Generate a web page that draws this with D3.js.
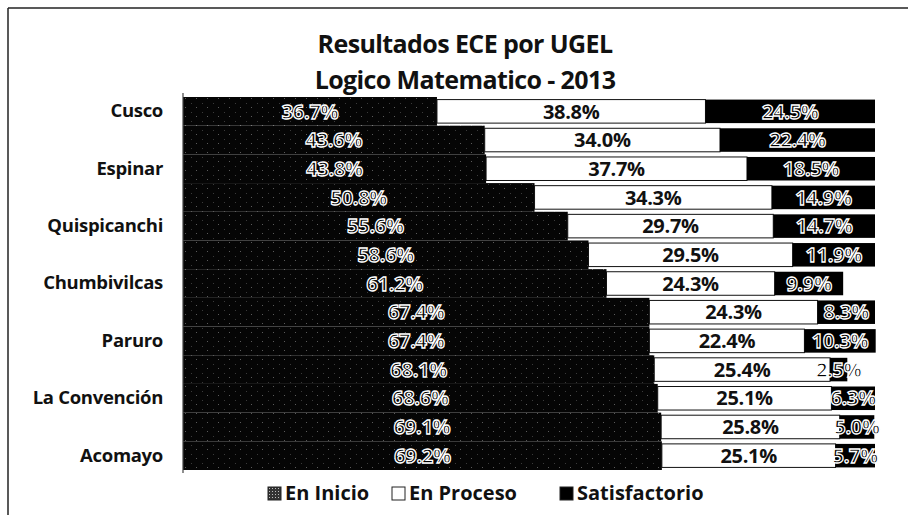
<!DOCTYPE html>
<html>
<head>
<meta charset="utf-8">
<script src="https://cdn.jsdelivr.net/npm/d3@7"></script>
<style>
	body { margin: 0; background: #fff; }
	text { font-family: "Open Sans", "Noto Sans", sans-serif; font-weight: bold; }
</style>
</head>
<body>
<div id="chart-area"></div>
<script>
// categories, top to bottom (only every other one is labelled in the original)
const ugels = ["Cusco", "Urubamba", "Espinar", "Calca", "Quispicanchi", "Anta", "Chumbivilcas",
	"Canchis", "Paruro", "Paucartambo", "La Convención", "Canas", "Acomayo"]
const enInicio = [36.7, 43.6, 43.8, 50.8, 55.6, 58.6, 61.2, 67.4, 67.4, 68.1, 68.6, 69.1, 69.2]
const enProceso = [38.8, 34.0, 37.7, 34.3, 29.7, 29.5, 24.3, 24.3, 22.4, 25.4, 25.1, 25.8, 25.1]
const satisfactorio = [24.5, 22.4, 18.5, 14.9, 14.7, 11.9, 9.9, 8.3, 10.3, 2.5, 6.3, 5.0, 5.7]
const seriesNames = ["En Inicio", "En Proceso", "Satisfactorio"]
const titleLines = ["Resultados ECE por UGEL", "Logico Matematico - 2013"]

const W = 908
const H = 515
const MARGIN = { LEFT: 183, RIGHT: 33, TOP: 97, BOTTOM: 45 }
const WIDTH = W - MARGIN.LEFT - MARGIN.RIGHT
const HEIGHT = H - MARGIN.TOP - MARGIN.BOTTOM

const svg = d3.select("#chart-area").append("svg")
	.attr("width", W)
	.attr("height", H)

// speckled black fill, like the scanned "En Inicio" bars
const defs = svg.append("defs")
const pat = defs.append("pattern")
	.attr("id", "speck")
	.attr("patternUnits", "userSpaceOnUse")
	.attr("width", 11)
	.attr("height", 9)
pat.append("rect").attr("width", 11).attr("height", 9).attr("fill", "#050505")
pat.append("rect").attr("x", 2).attr("y", 1).attr("width", 1).attr("height", 1).attr("fill", "#5a5a5a")
pat.append("rect").attr("x", 8).attr("y", 6).attr("width", 1).attr("height", 1).attr("fill", "#3a3a3a")

const legPat = defs.append("pattern")
	.attr("id", "speck-legend")
	.attr("patternUnits", "userSpaceOnUse")
	.attr("width", 3)
	.attr("height", 3)
legPat.append("rect").attr("width", 3).attr("height", 3).attr("fill", "#333")
legPat.append("rect").attr("x", 1).attr("y", 1).attr("width", 1).attr("height", 1).attr("fill", "#bbb")

// frame of the scanned figure
svg.append("line")
	.attr("x1", 8).attr("x2", W).attr("y1", 8).attr("y2", 8)
	.attr("stroke", "#222").attr("stroke-width", 1.5)
svg.append("line")
	.attr("x1", 8).attr("x2", 8).attr("y1", 8).attr("y2", H)
	.attr("stroke", "#222").attr("stroke-width", 1.5)

// title
svg.selectAll(".title")
	.data(titleLines)
	.enter().append("text")
	.attr("class", "title")
	.attr("x", 465)
	.attr("y", (d, i) => 53 + i * 36)
	.attr("text-anchor", "middle")
	.attr("font-size", "25px")
	.attr("letter-spacing", "-0.6px")
	.attr("fill", "#111")
	.text(d => d)

const g = svg.append("g")
	.attr("transform", `translate(${MARGIN.LEFT}, ${MARGIN.TOP})`)

// scales
const x = d3.scaleLinear().domain([0, 100]).range([0, WIDTH])
const y = d3.scaleBand().domain(ugels).range([0, HEIGHT]).paddingInner(0.18).paddingOuter(0.09)

const rows = ugels.map((u, i) => ({ ugel: u, "En Inicio": enInicio[i], "En Proceso": enProceso[i], "Satisfactorio": satisfactorio[i] }))
const stacked = d3.stack().keys(seriesNames)(rows)

const fills = { "En Inicio": "url(#speck)", "En Proceso": "#fff", "Satisfactorio": "#000" }

// dark background band behind the En Inicio bars (they touch in the original)
g.selectAll(".band")
	.data(rows)
	.enter().append("rect")
	.attr("class", "band")
	.attr("x", 0)
	.attr("y", d => y(d.ugel) - y.step() * y.paddingInner() / 2)
	.attr("width", d => x(d["En Inicio"]))
	.attr("height", y.step())
	.attr("fill", "url(#speck)")

const layer = g.selectAll(".layer")
	.data(stacked)
	.enter().append("g")
	.attr("class", "layer")

layer.selectAll("rect")
	.data(d => d.map(v => ({ key: d.key, v })))
	.enter().append("rect")
	.attr("x", d => x(d.v[0]))
	.attr("y", d => y(d.v.data.ugel))
	.attr("width", d => x(d.v[1]) - x(d.v[0]))
	.attr("height", y.bandwidth())
	.attr("fill", d => fills[d.key])
	.attr("stroke", d => d.key == "En Proceso" ? "#111" : "none")
	.attr("stroke-width", 1)

// value labels
layer.selectAll(".val")
	.data(d => d.map(v => ({ key: d.key, v })))
	.enter().append("text")
	.attr("class", "val")
	.attr("x", d => x((d.v[0] + d.v[1]) / 2))
	.attr("y", d => y(d.v.data.ugel) + y.bandwidth() / 2)
	.attr("dy", "0.36em")
	.attr("text-anchor", "middle")
	.attr("font-size", "20px")
	.attr("letter-spacing", "-0.3px")
	.attr("fill", d => d.key == "En Proceso" ? "#111" : "#000")
	.attr("stroke", d => d.key == "En Proceso" ? "none" : "#fff")
	.attr("stroke-width", 1.3)
	.text(d => d3.format(".1f")(d.v[1] - d.v[0]) + "%")

// plot area edge
g.append("line")
	.attr("x1", 0).attr("x2", 0).attr("y1", -4).attr("y2", HEIGHT + 3)
	.attr("stroke", "#444").attr("stroke-width", 1.2)

// category axis, every other label shown
const yAxisCall = d3.axisLeft(y)
	.tickSize(0)
	.tickPadding(20)
	.tickFormat((d, i) => i % 2 == 0 ? d : "")
const yAxis = g.append("g")
	.attr("class", "y axis")
	.call(yAxisCall)
yAxis.select(".domain").remove()
yAxis.selectAll("text")
	.attr("font-size", "18.5px")
	.attr("font-family", "'Open Sans', sans-serif")
	.attr("font-weight", "bold")
	.attr("letter-spacing", "-0.3px")
	.attr("fill", "#111")

// legend
const legendX = [268, 392, 560]
const legFill = { "En Inicio": "url(#speck-legend)", "En Proceso": "#fff", "Satisfactorio": "#000" }
const legend = svg.selectAll(".legend")
	.data(seriesNames)
	.enter().append("g")
	.attr("class", "legend")
	.attr("transform", (d, i) => `translate(${legendX[i]}, 493)`)
legend.append("rect")
	.attr("x", 0).attr("y", -6)
	.attr("width", 13).attr("height", 13)
	.attr("fill", d => legFill[d])
	.attr("stroke", "#222")
	.attr("stroke-width", 1)
legend.append("text")
	.attr("x", 17)
	.attr("dy", "0.36em")
	.attr("font-size", "20px")
	.attr("fill", "#111")
	.text(d => d)
</script>
</body>
</html>
